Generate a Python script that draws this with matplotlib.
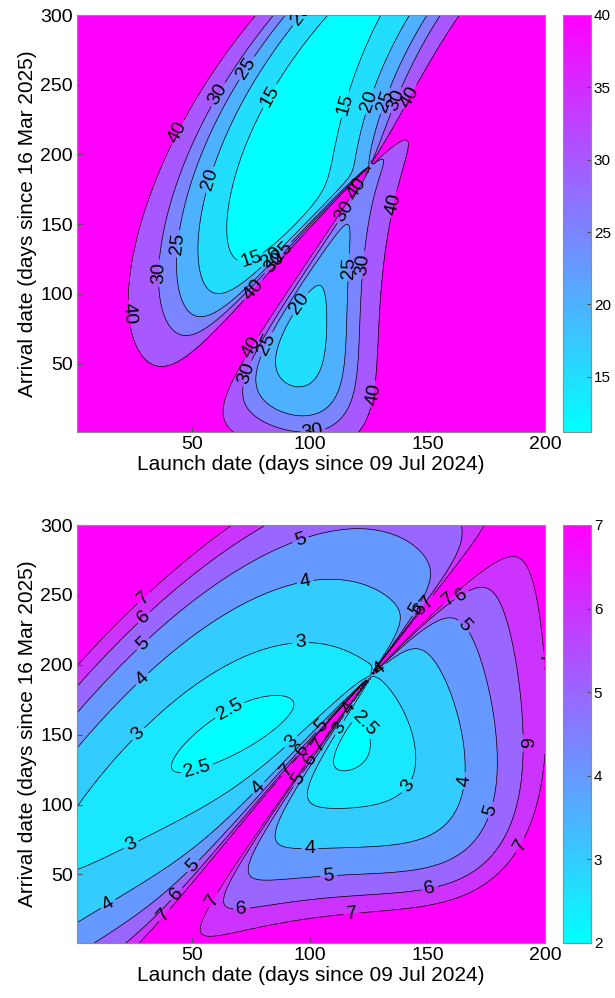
import numpy as np
import matplotlib
matplotlib.use("Agg")
import matplotlib.pyplot as plt
from matplotlib import colors

plt.rcParams['font.family'] = ['Liberation Sans', 'DejaVu Sans']

# epochs (julian days) for day 0 of each axis
launchJD0 = 2460500.5   # 09 Jul 2024
arriveJD0 = 2460750.5   # 16 Mar 2025
launchDays = np.arange(1, 201)
arriveDays = np.arange(1, 301)

# approximate keplerian elements: a [AU], e, I, L, long.peri, long.node [deg] at J2000 and rates per century
earthElements = [1.00000261, 0.01671123, -0.00001531, 100.46457166, 102.93768193, 0.0]
earthRates = [0.00000562, -0.00004392, -0.01294668, 35999.37244981, 0.32327364, 0.0]
marsElements = [1.52371034, 0.09339410, 1.84969142, -4.55343205, -23.94362959, 49.55953891]
marsRates = [0.00001847, 0.00007882, -0.00813131, 19140.30268499, 0.44441088, -0.29257343]

# contour levels and colour limits
c3Levels = [15, 20, 25, 30, 40]
c3Max = 40
c3Ticks = [15, 20, 25, 30, 35, 40]
vinfLevels = [2.5, 3, 4, 5, 6, 7]
vinfLimits = [2, 7]
vinfTicks = [2, 3, 4, 5, 6, 7]

MU = 0.01720209895 ** 2          # AU^3/day^2
AUDAY = 149597870.7 / 86400.0    # km/s per AU/day


def planetState(el, rate, jd):
    T = (jd - 2451545.0) / 36525.0
    a, e, inc, L, wbar, node = [x0 + r * T for x0, r in zip(el, rate)]
    inc, L, wbar, node = np.radians(inc), np.radians(L), np.radians(wbar), np.radians(node)
    w = wbar - node
    M = L - wbar
    E = M.copy()
    for _ in range(30):
        E = E - (E - e * np.sin(E) - M) / (1 - e * np.cos(E))
    r = a * (1 - e * np.cos(E))
    xp = a * (np.cos(E) - e)
    yp = a * np.sqrt(1 - e ** 2) * np.sin(E)
    vxp = -np.sqrt(MU * a) / r * np.sin(E)
    vyp = np.sqrt(MU * a) / r * np.sqrt(1 - e ** 2) * np.cos(E)
    cw, sw, cO, sO, ci, si = np.cos(w), np.sin(w), np.cos(node), np.sin(node), np.cos(inc), np.sin(inc)
    m11 = cw * cO - sw * sO * ci
    m12 = -sw * cO - cw * sO * ci
    m21 = cw * sO + sw * cO * ci
    m22 = -sw * sO + cw * cO * ci
    m31 = sw * si
    m32 = cw * si
    pos = np.stack([m11 * xp + m12 * yp, m21 * xp + m22 * yp, m31 * xp + m32 * yp])
    vel = np.stack([m11 * vxp + m12 * vyp, m21 * vxp + m22 * vyp, m31 * vxp + m32 * vyp])
    return pos, vel


def stumpff(z):
    C = np.full_like(z, 0.5)
    S = np.full_like(z, 1.0 / 6.0)
    p = z > 1e-8
    n = z < -1e-8
    sp = np.sqrt(z[p])
    C[p] = (1 - np.cos(sp)) / z[p]
    S[p] = (sp - np.sin(sp)) / sp ** 3
    sn = np.sqrt(-z[n])
    C[n] = (np.cosh(sn) - 1) / (-z[n])
    S[n] = (np.sinh(sn) - sn) / sn ** 3
    return C, S


def lambert(r1, r2, tof):
    r1n = np.linalg.norm(r1, axis=0)
    r2n = np.linalg.norm(r2, axis=0)
    cosdnu = np.clip(np.sum(r1 * r2, axis=0) / (r1n * r2n), -1, 1)
    dnu = np.arccos(cosdnu)
    crossZ = r1[0] * r2[1] - r1[1] * r2[0]
    dnu = np.where(crossZ < 0, 2 * np.pi - dnu, dnu)
    A = np.sin(dnu) * np.sqrt(r1n * r2n / (1 - np.cos(dnu)))
    lo = np.full_like(tof, -100.0)
    hi = np.full_like(tof, 4 * np.pi ** 2 - 1e-6)
    with np.errstate(all="ignore"):
        for _ in range(80):
            z = 0.5 * (lo + hi)
            C, S = stumpff(z)
            y = r1n + r2n + A * (z * S - 1) / np.sqrt(C)
            F = np.where(y > 0, (np.abs(y) / C) ** 1.5 * S + A * np.sqrt(np.abs(y)) - np.sqrt(MU) * tof, -np.inf)
            lo = np.where(F < 0, z, lo)
            hi = np.where(F >= 0, z, hi)
        z = 0.5 * (lo + hi)
        C, S = stumpff(z)
        y = r1n + r2n + A * (z * S - 1) / np.sqrt(C)
        f = 1 - y / r1n
        g = A * np.sqrt(y / MU)
        gdot = 1 - y / r2n
        v1 = (r2 - f * r1) / g
        v2 = (gdot * r2 - r1) / g
    return v1, v2


X, Y = np.meshgrid(launchDays, arriveDays)
jdLaunch = launchJD0 + X.astype(float)
jdArrive = arriveJD0 + Y.astype(float)
rE, vE = planetState(earthElements, earthRates, jdLaunch)
rM, vM = planetState(marsElements, marsRates, jdArrive)
v1, v2 = lambert(rE, rM, jdArrive - jdLaunch)
C3 = np.sum(((v1 - vE) * AUDAY) ** 2, axis=0)
vinf = np.linalg.norm((v2 - vM) * AUDAY, axis=0)
C3 = np.nan_to_num(C3, nan=1e4, posinf=1e4)
vinf = np.nan_to_num(vinf, nan=1e3, posinf=1e3)

cmap = plt.get_cmap("cool")

fig = plt.figure(figsize=(6.15, 9.98), dpi=100)
ax1 = fig.add_axes([77 / 615, 1 - 432 / 998, 468 / 615, 417 / 998])
cax1 = fig.add_axes([563 / 615, 1 - 432 / 998, 28 / 615, 417 / 998])
ax2 = fig.add_axes([77 / 615, 1 - 943 / 998, 468 / 615, 418 / 998])
cax2 = fig.add_axes([563 / 615, 1 - 943 / 998, 28 / 615, 418 / 998])


def labelPoints(ax, cs, spacing=190):
    # spread labels along every line, like MATLAB's LabelSpacing
    pts = []
    for segs in cs.allsegs:
        for seg in segs:
            if len(seg) < 3:
                continue
            d = ax.transData.transform(seg)
            step = np.hypot(np.diff(d[:, 0]), np.diff(d[:, 1]))
            cum = np.concatenate([[0], np.cumsum(step)])
            total = cum[-1]
            if total < 40:
                continue
            if total < spacing:
                marks = [total / 2]
            else:
                marks = np.arange(spacing / 2, total, spacing)
            for m in marks:
                i = np.searchsorted(cum, m)
                i = min(i, len(seg) - 1)
                pts.append((seg[i, 0], seg[i, 1]))
    return pts


def porkchop(ax, cax, Z, levels, lo, hi, ticks):
    norm = colors.Normalize(lo, hi)
    fillLevels = [min(Z.min(), lo)] + list(levels) + [max(Z.max(), levels[-1]) + 1]
    fillColors = [cmap(norm(min(v, hi))) for v in [lo] + list(levels)]
    ax.contourf(X, Y, Z, levels=fillLevels, colors=fillColors)
    ax.set_xlim(1, 200)
    ax.set_ylim(1, 300)
    cs = ax.contour(X, Y, Z, levels=levels, colors="k", linewidths=0.5)
    ax.clabel(cs, fmt="%g", fontsize=14, inline=True, inline_spacing=3, manual=labelPoints(ax, cs))
    ax.set_xticks([50, 100, 150, 200])
    ax.set_yticks([50, 100, 150, 200, 250, 300])
    ax.tick_params(direction="in", labelsize=14, color="0.3", pad=3)
    for s in ax.spines.values():
        s.set_color("0.55")
    ax.set_xlabel("Launch date (days since 09 Jul 2024)", fontsize=15, labelpad=1)
    ax.set_ylabel("Arrival date (days since 16 Mar 2025)", fontsize=15, labelpad=2)
    sm = plt.cm.ScalarMappable(norm=norm, cmap=cmap)
    cb = fig.colorbar(sm, cax=cax, ticks=ticks)
    cb.ax.tick_params(direction="in", labelsize=11, color="0.3", pad=2, length=3)
    cb.outline.set_edgecolor("0.55")


porkchop(ax1, cax1, C3, c3Levels, C3.min(), c3Max, c3Ticks)
porkchop(ax2, cax2, vinf, vinfLevels, vinfLimits[0], vinfLimits[1], vinfTicks)

fig.savefig("out.png", dpi=100)
